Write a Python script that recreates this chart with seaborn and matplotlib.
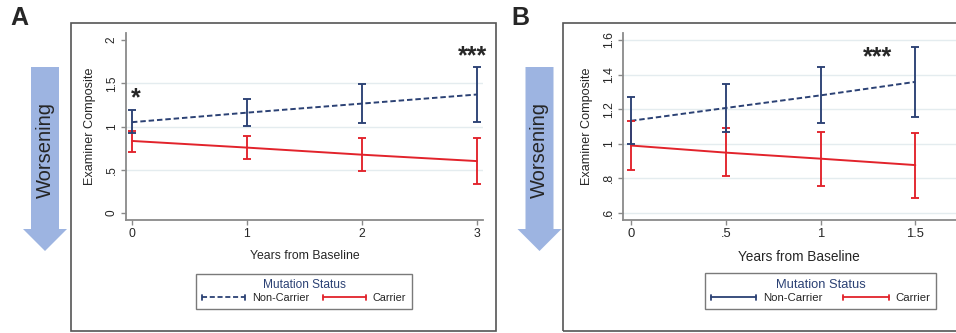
import numpy as np
import pandas as pd
import seaborn as sns
import matplotlib.pyplot as plt
from matplotlib.lines import Line2D
from matplotlib.patches import Rectangle, Polygon
from matplotlib.legend_handler import HandlerBase

# panel A: 3-year follow-up
years_a = [0, 1, 2, 3]
nc_a_mean = [1.05, 1.16, 1.265, 1.37]
nc_a_lo = [0.92, 1.008, 1.039, 1.05]
nc_a_hi = [1.19, 1.318, 1.496, 1.686]
c_a_mean = [0.833, 0.756, 0.674, 0.60]
c_a_lo = [0.709, 0.62, 0.484, 0.337]
c_a_hi = [0.95, 0.891, 0.872, 0.864]
yticks_a = [0, 0.5, 1, 1.5, 2]
ytick_labels_a = ['0', '.5', '1', '1.5', '2']
xticks_a = [0, 1, 2, 3]
xtick_labels_a = ['0', '1', '2', '3']
grid_a = [0.5, 1, 1.5]

# panel B: 1.5-year follow-up
years_b = [0, 0.5, 1, 1.5]
nc_b_mean = [1.133, 1.207, 1.28, 1.358]
nc_b_lo = [0.997, 1.069, 1.119, 1.154]
nc_b_hi = [1.269, 1.346, 1.443, 1.557]
c_b_mean = [0.99, 0.949, 0.914, 0.877]
c_b_lo = [0.848, 0.815, 0.757, 0.687]
c_b_hi = [1.129, 1.09, 1.069, 1.063]
yticks_b = [0.6, 0.8, 1, 1.2, 1.4, 1.6]
ytick_labels_b = ['.6', '.8', '1', '1.2', '1.4', '1.6']
xticks_b = [0, 0.5, 1, 1.5]
xtick_labels_b = ['0', '.5', '1', '1.5']
grid_b = [0.6, 0.8, 1, 1.2, 1.4, 1.6]

W, H = 956, 333
NAVY = '#2b4174'
RED = '#e2232b'
GRID = '#e4ecef'
SPINE = '#8a8a8a'
ARROW = '#9db4e1'

sns.set_style('white')
plt.rcParams['font.family'] = ['Liberation Sans', 'DejaVu Sans']


def fx(x):
    return x / W


def fy(y):
    return 1 - y / H


class CapLineHandler(HandlerBase):
    '''legend key drawn as a line with small caps at both ends (stata rcap look)'''
    def create_artists(self, legend, orig_handle, xdescent, ydescent,
                       width, height, fontsize, trans):
        y = height / 2 - ydescent
        x0, x1 = -xdescent, -xdescent + width
        cap = height * 0.33
        line = Line2D([x0, x1], [y, y])
        line.update_from(orig_handle)
        out = [line]
        for xc in (x0, x1):
            out.append(Line2D([xc, xc], [y - cap, y + cap],
                              color=orig_handle.get_color(), lw=orig_handle.get_linewidth()))
        for a in out:
            a.set_transform(trans)
        return out


def draw_panel(ax, years, nc_mean, nc_lo, nc_hi, c_mean, c_lo, c_hi,
               yticks, ylabels, xticks, xlabels, grid_vals, xlim, ylim,
               ytick_size, xtick_size, xlab_size):
    df = pd.DataFrame({
        'years': list(years) * 2,
        'score': list(nc_mean) + list(c_mean),
        'status': ['Non-Carrier'] * len(years) + ['Carrier'] * len(years),
    })
    for g in grid_vals:
        ax.axhline(g, color=GRID, lw=1.0, zorder=0)
    sns.lineplot(data=df, x='years', y='score', hue='status', style='status',
                 palette={'Non-Carrier': NAVY, 'Carrier': RED},
                 dashes={'Non-Carrier': (2.8, 1.5), 'Carrier': ''},
                 lw=1.4, legend=False, errorbar=None, ax=ax)
    for mean, lo, hi, col in [(c_mean, c_lo, c_hi, RED), (nc_mean, nc_lo, nc_hi, NAVY)]:
        mean, lo, hi = np.array(mean), np.array(lo), np.array(hi)
        ax.errorbar(years, mean, yerr=[mean - lo, hi - mean], fmt='none',
                    ecolor=col, elinewidth=1.35, capsize=2.6, capthick=1.35, zorder=3)

    ax.set_xlim(*xlim)
    ax.set_ylim(*ylim)
    ax.set_xticks(xticks)
    ax.set_xticklabels(xlabels, fontsize=xtick_size)
    ax.set_yticks(yticks)
    ax.set_yticklabels(ylabels, rotation=90, va='center', fontsize=ytick_size)
    ax.tick_params(axis='both', direction='out', length=3.5, width=1,
                   color=SPINE, pad=2.5, left=True, bottom=True)
    ax.set_xlabel('Years from Baseline', fontsize=xlab_size, labelpad=7)
    ax.set_ylabel('Examiner Composite', fontsize=9.1, labelpad=7)
    for s in ['top', 'right']:
        ax.spines[s].set_visible(False)
    for s in ['left', 'bottom']:
        ax.spines[s].set_color(SPINE)
        ax.spines[s].set_linewidth(1.3)
    ax.set_facecolor('none')


def add_legend(ax, cx, cy, fs, title_fs, nc_dashed, colspace):
    nc = Line2D([], [], color=NAVY, lw=1.3,
                linestyle=(0, (2.8, 1.5)) if nc_dashed else '-')
    c = Line2D([], [], color=RED, lw=1.3)
    leg = ax.legend([nc, c], ['Non-Carrier', 'Carrier'], ncol=2,
                    title='Mutation Status', title_fontsize=title_fs, fontsize=fs,
                    handler_map={Line2D: CapLineHandler()},
                    loc='center', bbox_to_anchor=(fx(cx), fy(cy)),
                    bbox_transform=ax.figure.transFigure,
                    handlelength=4.0, handletextpad=0.6, columnspacing=colspace,
                    borderpad=0.5, labelspacing=0.2, fancybox=False,
                    frameon=True, framealpha=1, edgecolor='#7a7a7a')
    leg.get_frame().set_linewidth(1.0)
    leg.get_title().set_color(NAVY)
    return leg


def add_arrow(fig, xc, text_size):
    body = 14
    head = 22
    pts = [(xc - body, 67), (xc + body, 67), (xc + body, 229), (xc + head, 229),
           (xc, 251), (xc - head, 229), (xc - body, 229)]
    fig.add_artist(Polygon([(fx(x), fy(y)) for x, y in pts], closed=True,
                           facecolor=ARROW, edgecolor='none',
                           transform=fig.transFigure))
    fig.text(fx(xc), fy(150), 'Worsening', rotation=90, ha='center', va='center',
             fontsize=text_size, color='#262626')


fig = plt.figure(figsize=(W / 100, H / 100), dpi=100)

# panel frames
for x0, x1 in [(71, 496), (563, 1010)]:
    fig.add_artist(Rectangle((fx(x0), fy(331)), fx(x1 - x0), (331 - 23) / H,
                             fill=False, edgecolor='#555555', lw=1.2,
                             transform=fig.transFigure))

ax_a = fig.add_axes([fx(126), fy(220), fx(483 - 126), (220 - 33) / H])
draw_panel(ax_a, years_a, nc_a_mean, nc_a_lo, nc_a_hi, c_a_mean, c_a_lo, c_a_hi,
           yticks_a, ytick_labels_a, xticks_a, xtick_labels_a, grid_a,
           (-0.052, 3.052), (-0.081, 2.081), 8.5, 8.8, 8.8)
ax_a.text(0.035, 1.246, '*', fontsize=18, fontweight='bold', ha='center', va='baseline')
ax_a.text(2.957, 1.726, '***', fontsize=18, fontweight='bold', ha='center', va='baseline')
add_legend(ax_a, 304, 291, 7.8, 8.6, True, 1.3)

ax_b = fig.add_axes([fx(623), fy(220), fx(975 - 623), (220 - 33) / H])
draw_panel(ax_b, years_b, nc_b_mean, nc_b_lo, nc_b_hi, c_b_mean, c_b_lo, c_b_hi,
           yticks_b, ytick_labels_b, xticks_b, xtick_labels_b, grid_b,
           (-0.042, 1.815), (0.5595, 1.6405), 8.8, 9.4, 9.8)
ax_b.text(1.30, 1.458, '***', fontsize=18, fontweight='bold', ha='center', va='baseline')
add_legend(ax_b, 820.5, 291, 8.2, 9.3, False, 1.8)

add_arrow(fig, 45, 14.5)
add_arrow(fig, 539.5, 14.5)

fig.text(fx(10), fy(18), 'A', fontsize=18, fontweight='bold', ha='left', va='center')
fig.text(fx(511), fy(18), 'B', fontsize=18, fontweight='bold', ha='left', va='center')

fig.savefig('out.png', dpi=100, facecolor='white')
